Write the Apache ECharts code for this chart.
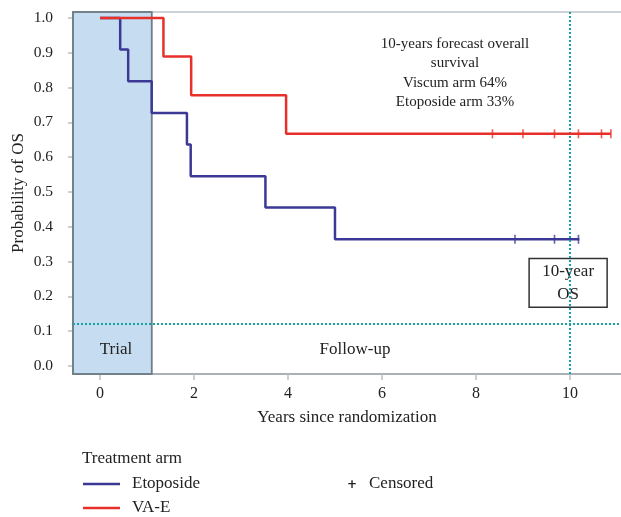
<!DOCTYPE html>
<html><head><meta charset="utf-8">
<script src="https://cdn.jsdelivr.net/npm/echarts@6/dist/echarts.min.js"></script>
<style>html,body{margin:0;padding:0;background:#fff}#c{width:621px;height:517px}</style>
</head><body><div id="c"></div>
<script>
// ---- data ----
const xTicks = [0, 2, 4, 6, 8, 10];
const yTicks = [0, 0.1, 0.2, 0.3, 0.4, 0.5, 0.6, 0.7, 0.8, 0.9, 1.0];
const etoposideCurve = [[0,1],[0.43,0.909],[0.60,0.818],[1.10,0.727],[1.85,0.636],[1.93,0.545],[3.52,0.455],[5.0,0.364],[10.2,0.364]];
const vaeCurve = [[0,1],[1.35,0.889],[1.94,0.778],[3.96,0.667],[10.87,0.667]];
const etoposideCensored = [[8.83,0.364],[9.67,0.364],[10.18,0.364]];
const vaeCensored = [[8.35,0.667],[9.0,0.667],[9.67,0.667],[10.18,0.667],[10.67,0.667],[10.87,0.667]];
const trialEnd = 1.1;
const osYear = 10;
const refLevel = 0.12;
const osBox = [[9.13,0.309],[10.79,0.169]];
const annotation = ['10-years forecast overall','survival','Viscum arm 64%','Etoposide arm 33%'];

const X_MIN = -0.574, X_MAX = 11.085, Y_MIN = -0.023, Y_MAX = 1.017;
const FONT = 'Liberation Serif';
const RED = '#e8302a', BLUE = '#3b3995', GREY = '#8f989e', CYAN = '#17a2a4';

const chart = echarts.init(document.getElementById('c'), null, {renderer:'canvas'});
chart.setOption({
  animation:false,
  grid:{left:73, top:12, right:0, bottom:143, containLabel:false, outerBoundsMode:'none'},
  xAxis:[{
    type:'value', min:X_MIN, max:X_MAX, position:'bottom',
    name:'Years since randomization', nameLocation:'middle', nameGap:35,
    nameTextStyle:{fontFamily:FONT, fontSize:17, color:'#222'},
    axisLine:{show:true, onZero:false, lineStyle:{color:GREY, width:1.5}},
    axisTick:{show:true, length:6, customValues:xTicks, lineStyle:{color:'#b9c0c4', width:1.5}},
    axisLabel:{customValues:xTicks, margin:12, fontFamily:FONT, fontSize:16, color:'#222'},
    splitLine:{show:false}
  },{
    type:'value', min:X_MIN, max:X_MAX, position:'top',
    axisLine:{show:true, onZero:false, lineStyle:{color:'#bcc3c7', width:1.5}},
    axisTick:{show:false}, axisLabel:{show:false}, splitLine:{show:false}
  }],
  yAxis:{
    type:'value', min:Y_MIN, max:Y_MAX,
    name:'Probability of OS', nameLocation:'middle', nameGap:46, nameRotate:90, nameMoveOverlap:false,
    nameTextStyle:{fontFamily:FONT, fontSize:17, color:'#222'},
    axisLine:{show:true, onZero:false, lineStyle:{color:GREY, width:1.5}},
    axisTick:{show:true, length:5, customValues:yTicks, lineStyle:{color:'#b9c0c4', width:1.5}},
    axisLabel:{customValues:yTicks, margin:20, fontFamily:FONT, fontSize:15.5, color:'#222',
      formatter:v=>v.toFixed(1)},
    splitLine:{show:false}
  },
  series:[
    {type:'line', data:[], z:1, silent:true,
      markArea:{silent:true, itemStyle:{color:'#c6dcf0', borderColor:'#6e7d87', borderWidth:1.5},
        data:[[{xAxis:X_MIN, yAxis:Y_MIN},{xAxis:trialEnd, yAxis:Y_MAX}]]}},
    {type:'line', data:[], z:2, silent:true,
      markLine:{silent:true, symbol:'none', label:{show:false},
        lineStyle:{color:CYAN, type:[2,2], width:2},
        data:[{xAxis:osYear},{yAxis:refLevel}]}},
    {type:'line', data:[], z:3, silent:true,
      markArea:{silent:true, itemStyle:{color:'#fff', borderColor:'#333', borderWidth:1.5},
        label:{show:true, position:'inside', formatter:'10-year\nOS', fontFamily:FONT, fontSize:17, lineHeight:23, color:'#222'},
        data:[[{xAxis:osBox[0][0], yAxis:osBox[0][1]},{xAxis:osBox[1][0], yAxis:osBox[1][1]}]]}},
    {name:'Etoposide', type:'line', step:'end', data:etoposideCurve, z:4, showSymbol:false,
      lineStyle:{color:BLUE, width:2.5}, itemStyle:{color:BLUE}},
    {name:'VA-E', type:'line', step:'end', data:vaeCurve, z:5, showSymbol:false,
      lineStyle:{color:RED, width:2.5}, itemStyle:{color:RED}},
    {type:'scatter', data:etoposideCensored, z:6, symbol:'rect', symbolSize:[1.6,9], itemStyle:{color:BLUE}},
    {type:'scatter', data:vaeCensored, z:6, symbol:'rect', symbolSize:[1.6,9], itemStyle:{color:RED}},
    {type:'line', data:[], z:10, silent:true,
      markArea:{silent:true, itemStyle:{color:'rgba(198,220,240,0)', borderColor:'#6e7d87', borderWidth:1.5},
        data:[[{xAxis:X_MIN, yAxis:Y_MIN},{xAxis:trialEnd, yAxis:Y_MAX}]]}}
  ],
  graphic:[
    {type:'text', position:[455,34], style:{text:annotation.join('\n'), fontFamily:FONT, fontSize:15, lineHeight:19.5, fill:'#222', align:'center', verticalAlign:'top'}, z:20},
    {type:'text', position:[116,350], style:{text:'Trial', fontFamily:FONT, fontSize:17, fill:'#222', align:'center', verticalAlign:'middle'}, z:20},
    {type:'text', position:[355,350], style:{text:'Follow-up', fontFamily:FONT, fontSize:17, fill:'#222', align:'center', verticalAlign:'middle'}, z:20},
    {type:'text', position:[82,459], style:{text:'Treatment arm', fontFamily:FONT, fontSize:17, fill:'#222', verticalAlign:'middle'}},
    {type:'line', shape:{x1:83,y1:484,x2:120,y2:484}, style:{stroke:BLUE, lineWidth:2.5}},
    {type:'text', position:[132,484], style:{text:'Etoposide', fontFamily:FONT, fontSize:17, fill:'#222', verticalAlign:'middle'}},
    {type:'line', shape:{x1:83,y1:508,x2:120,y2:508}, style:{stroke:RED, lineWidth:2.5}},
    {type:'text', position:[132,508], style:{text:'VA-E', fontFamily:FONT, fontSize:17, fill:'#222', verticalAlign:'middle'}},
    {type:'text', position:[352,485], style:{text:'+', fontFamily:'DejaVu Sans', fontSize:12, fontWeight:'bold', fill:'#222', align:'center', verticalAlign:'middle'}},
    {type:'text', position:[369,484], style:{text:'Censored', fontFamily:FONT, fontSize:17, fill:'#222', verticalAlign:'middle'}}
  ]
});
</script></body></html>
